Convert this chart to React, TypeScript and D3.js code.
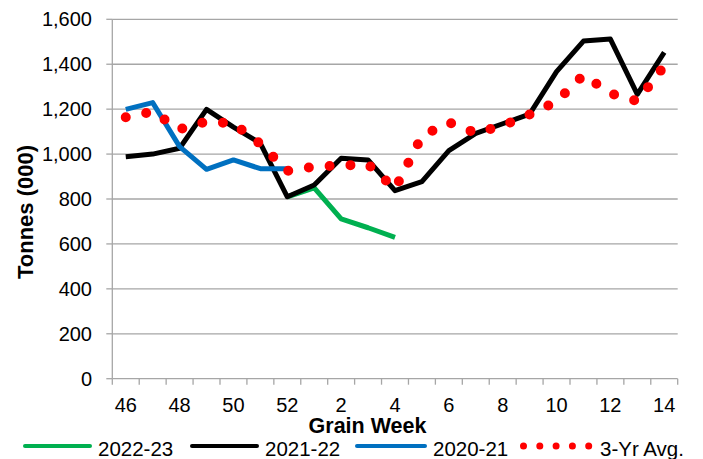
import React from "react";
import * as d3 from "d3";

const weeks = ["46","47","48","49","50","51","52","1","2","3","4","5","6","7","8","9","10","11","12","13","14"];
const tickWeeks = ["46","48","50","52","2","4","6","8","10","12","14"];
const yTicks = [0, 200, 400, 600, 800, 1000, 1200, 1400, 1600];

const s2022: (number | null)[] = [null,null,null,null,null,null,810,850,711,672,629,null,null,null,null,null,null,null,null,null,null];
const s2021: (number | null)[] = [988,1000,1026,1199,1120,1048,810,862,981,974,837,877,1015,1092,1135,1178,1367,1503,1512,1266,1453];
const s2020: (number | null)[] = [1199,1229,1033,932,974,935,935,null,null,null,null,null,null,null,null,null,null,null,null,null,null];
const avg3: (number | null)[] = [1164,1189,1110,1145,1136,1045,925,944,949,954,845,1080,1141,1094,1127,1176,1234,1352,1270,1236,1392];

const seriesNames = ["2022-23", "2021-22", "2020-21", "3-Yr Avg."];
const colors = ["#00B050", "#000000", "#0070C0", "#FF0000"];

const W = 703, H = 459;
const L = 112.3, R = 677.7, T = 19.3, B = 378.7;
const FONT = "'Liberation Sans', Arial, sans-serif";

export default function App() {
  const x = d3.scaleBand<string>().domain(weeks).range([L, R]).padding(0);
  const y = d3.scaleLinear().domain([0, 1600]).range([B, T]);
  const cx = (w: string) => (x(w) as number) + x.bandwidth() / 2;
  const line = d3.line<number | null>()
    .defined((d) => d != null)
    .x((_, i) => cx(weeks[i]))
    .y((d) => y(d as number));
  const fmt = d3.format(",");
  const grid = "#a6a6a6";

  const boundaries = weeks.map((w) => x(w) as number).concat([R]);

  const legendItems = [
    { name: seriesNames[0], color: colors[0], x1: 25, x2: 90, tx: 98 },
    { name: seriesNames[1], color: colors[1], x1: 192, x2: 257, tx: 265 },
    { name: seriesNames[2], color: colors[2], x1: 357, x2: 425, tx: 433 },
  ];
  const ly = 446;

  return (
    <svg width={W} height={H} style={{ position: "absolute", left: 0, top: 0, background: "#fff" }} fontFamily={FONT}>
      {yTicks.filter((t) => t > 0).map((t) => (
        <line key={"g" + t} x1={L} x2={R} y1={y(t)} y2={y(t)} stroke={grid} strokeWidth={1.3} />
      ))}
      <line x1={L} x2={L} y1={T} y2={B} stroke={grid} strokeWidth={1.3} />
      {yTicks.map((t) => (
        <g key={"yt" + t}>
          <line x1={L - 6} x2={L} y1={y(t)} y2={y(t)} stroke={grid} strokeWidth={1.3} />
          <text x={92} y={y(t) + 7} textAnchor="end" fontSize={20} fill="#000">{fmt(t)}</text>
        </g>
      ))}
      <line x1={L} x2={R} y1={B} y2={B} stroke={grid} strokeWidth={1.3} />
      {boundaries.map((bx, i) => (
        <line key={"xt" + i} x1={bx} x2={bx} y1={B} y2={B + 6} stroke={grid} strokeWidth={1.3} />
      ))}
      {tickWeeks.map((w) => (
        <text key={"xl" + w} x={cx(w)} y={411.5} textAnchor="middle" fontSize={20} fill="#000">{w}</text>
      ))}
      <text x={367.5} y={433} textAnchor="middle" fontSize={21.5} fontWeight="bold" fill="#000">Grain Week</text>
      <text transform="translate(33,212) rotate(-90)" textAnchor="middle" fontSize={22} fontWeight="bold" fill="#000">Tonnes (000)</text>
      <path d={line(s2022) || ""} fill="none" stroke={colors[0]} strokeWidth={5} strokeLinejoin="round" />
      <path d={line(s2021) || ""} fill="none" stroke={colors[1]} strokeWidth={5} strokeLinejoin="round" />
      <path d={line(s2020) || ""} fill="none" stroke={colors[2]} strokeWidth={5} strokeLinejoin="round" />
      <path d={line(avg3) || ""} fill="none" stroke={colors[3]} strokeWidth={10} strokeLinecap="round" strokeDasharray="0 20.85" />
      {legendItems.map((it) => (
        <g key={it.name}>
          <line x1={it.x1} x2={it.x2} y1={ly} y2={ly} stroke={it.color} strokeWidth={4} strokeLinecap="round" />
          <text x={it.tx} y={456} fontSize={20.5} fill="#000">{it.name}</text>
        </g>
      ))}
      <line x1={523.5} x2={589} y1={ly} y2={ly} stroke={colors[3]} strokeWidth={7} strokeLinecap="round" strokeDasharray="0 16.3" />
      <text x={600} y={456} fontSize={20.5} fill="#000">{seriesNames[3]}</text>
    </svg>
  );
}
